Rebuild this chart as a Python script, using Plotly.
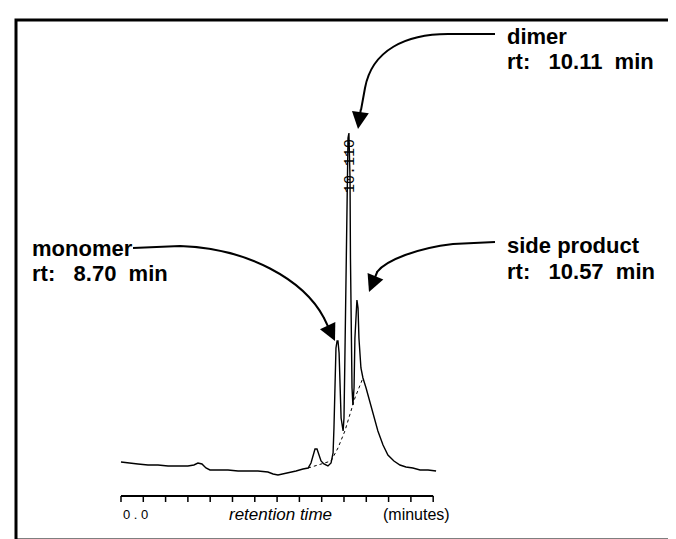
import plotly.graph_objects as go

# ---------------- data ----------------
time_min = [0.00, 0.31, 0.76, 1.21, 1.66, 2.11, 2.56, 3.00, 3.27, 3.45, 3.63, 3.81, 3.99,
            4.35, 4.80, 5.25, 5.70, 6.14, 6.59, 6.82, 7.04, 7.26, 7.49, 7.85, 8.16, 8.39,
            8.52, 8.61, 8.70, 8.79, 8.88, 8.97, 9.10, 9.28, 9.42, 9.51, 9.55, 9.60, 9.64,
            9.69, 9.73, 9.78, 9.82, 9.87, 9.96, 10.00, 10.04, 10.09, 10.13, 10.18, 10.22,
            10.27, 10.29, 10.31, 10.36, 10.40, 10.45, 10.49, 10.54, 10.58, 10.63, 10.67,
            10.76, 10.85, 10.99, 11.17, 11.35, 11.52, 11.75, 11.97, 12.24, 12.51, 12.78,
            13.09, 13.41, 13.77, 14.13]
signal = [1.6, 1.5, 1.4, 1.3, 1.3, 1.2, 1.2, 1.2, 1.3, 1.5, 1.4, 1.0, 0.8,
          0.8, 0.8, 0.7, 0.7, 0.7, 0.6, 0.4, 0.3, 0.4, 0.5, 0.7, 0.9, 1.0,
          1.5, 2.3, 2.9, 2.9, 2.3, 1.7, 1.4, 1.2, 1.5, 2.5, 5.0, 9.0, 13.0,
          13.7, 13.7, 12.5, 9.0, 6.0, 4.7, 6.0, 12.0, 21.0, 29.0, 34.0, 34.5,
          30.0, 22.0, 15.0, 9.0, 7.3, 9.0, 14.0, 17.0, 17.8, 17.0, 14.0,
          11.0, 10.0, 9.0, 7.5, 6.0, 4.7, 3.3, 2.3, 1.7, 1.3, 1.1,
          1.0, 0.8, 0.8, 0.7]

# integration baseline (dotted)
base_time = [8.39, 9.42, 9.73, 10.04, 10.49, 10.85]
base_signal = [1.0, 1.7, 3.0, 4.7, 8.0, 10.0]

tick_values = list(range(15))
peak_label = "10.110"
peak_label_time = 10.27
peak_label_signal = 31.2

NB = "\u00a0"
labels = [
    ("dimer", "rt:" + NB * 3 + "10.11" + NB * 2 + "min"),
    ("side product", "rt:" + NB * 3 + "10.57" + NB * 2 + "min"),
    ("monomer", "rt:" + NB * 3 + "8.70" + NB * 2 + "min"),
]

# ---------------- figure ----------------
W, H = 676, 539
X_RANGE = [-5.067, 25.247]
Y_RANGE = [-6.9, 47.0]


def P(px, py):
    return px / W, 1 - py / H


def path(cmds):
    out = []
    for c in cmds:
        op, pts = c[0], c[1:]
        s = op
        for (px, py) in pts:
            x, y = P(px, py)
            s += f" {x:.5f},{y:.5f}"
        out.append(s)
    return " ".join(out)


fig = go.Figure()
fig.add_trace(go.Scatter(x=time_min, y=signal, mode="lines",
                         line=dict(color="black", width=1.4), hoverinfo="skip"))
fig.add_trace(go.Scatter(x=base_time, y=base_signal, mode="lines",
                         line=dict(color="black", width=1, dash="dot"), hoverinfo="skip"))

shapes = []
# frame
shapes.append(dict(type="rect", xref="paper", yref="paper",
                   x0=8 / W, x1=670 / W, y0=1 - 532 / H, y1=1 - 12 / H,
                   line=dict(color="black", width=3)))
# time axis bar and ticks
axis_y = -1.8
shapes.append(dict(type="line", xref="x", yref="y", x0=tick_values[0], x1=tick_values[-1],
                   y0=axis_y, y1=axis_y, line=dict(color="black", width=2)))
for tv in tick_values:
    shapes.append(dict(type="line", xref="x", yref="y", x0=tv, x1=tv,
                       y0=axis_y, y1=axis_y - 0.6, line=dict(color="black", width=1.5)))

# curved arrows
arrow_line = dict(color="black", width=2)
shapes.append(dict(type="path", xref="paper", yref="paper", line=arrow_line,
                   path=path([("M", (487, 26)), ("L", (440, 26)),
                              ("C", (398, 26), (364, 42), (357, 80)), ("L", (353, 102))])))
shapes.append(dict(type="path", xref="paper", yref="paper", line=arrow_line,
                   path=path([("M", (487, 234)), ("L", (445, 236)),
                              ("C", (410, 240), (378, 252), (369, 264))])))
shapes.append(dict(type="path", xref="paper", yref="paper", line=arrow_line,
                   path=path([("M", (125, 240)), ("L", (172, 238)),
                              ("C", (240, 240), (296, 272), (316, 310))])))

annotations = []
for tip, tail in [((350, 121), (353, 100)), ((361, 284), (370, 262)), ((327, 333), (315, 308))]:
    x, y = P(*tip)
    annotations.append(dict(xref="paper", yref="paper", x=x, y=y, text="",
                            showarrow=True, ax=tail[0] - tip[0], ay=tail[1] - tip[1],
                            arrowhead=2, arrowsize=1.7, arrowwidth=2, arrowcolor="black"))

label_font = dict(family="Liberation Sans, Arial, sans-serif", size=22, color="black")
label_pos = [(497, 28, 53), (497, 238, 263), (22, 240, 266)]
for (name, rt), (lx, y1, y2) in zip(labels, label_pos):
    for txt, yy in [(name, y1), (rt, y2)]:
        x, y = P(lx, yy)
        annotations.append(dict(xref="paper", yref="paper", x=x, y=y, text=f"<b>{txt}</b>",
                                showarrow=False, xanchor="left", yanchor="middle",
                                font=label_font))

# peak label (rotated)
annotations.append(dict(xref="x", yref="y", x=peak_label_time, y=peak_label_signal,
                        text=peak_label, textangle=-90, showarrow=False,
                        font=dict(family="Liberation Mono, DejaVu Sans Mono, monospace",
                                  size=15, color="black")))

# axis labels
annotations.append(dict(xref="x", yref="y", x=tick_values[0], y=-3.6, text="0" + NB + "." + NB + "0",
                        showarrow=False, xanchor="left", yanchor="middle",
                        font=dict(family="Liberation Sans, Arial, sans-serif", size=13, color="black")))
annotations.append(dict(xref="x", yref="y", x=7.15, y=-3.6, text="<i>retention time</i>",
                        showarrow=False, xanchor="center", yanchor="middle",
                        font=dict(family="Liberation Sans, Arial, sans-serif", size=17, color="black")))
annotations.append(dict(xref="x", yref="y", x=11.65, y=-3.6, text="(minutes)",
                        showarrow=False, xanchor="left", yanchor="middle",
                        font=dict(family="Liberation Sans, Arial, sans-serif", size=16, color="black")))

fig.update_layout(
    width=W, height=H, margin=dict(l=0, r=0, t=0, b=0),
    paper_bgcolor="white", plot_bgcolor="white", showlegend=False,
    xaxis=dict(range=X_RANGE, visible=False, fixedrange=True),
    yaxis=dict(range=Y_RANGE, visible=False, fixedrange=True),
    shapes=shapes, annotations=annotations,
)

fig.write_html("out.html")
